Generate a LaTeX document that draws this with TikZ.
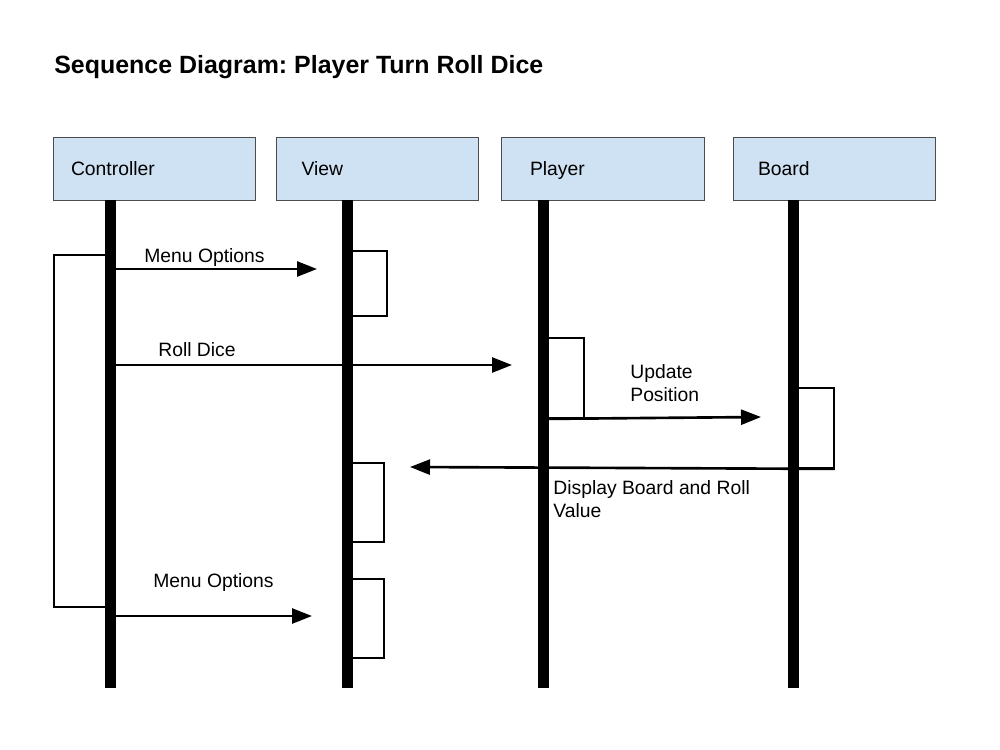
\documentclass[tikz,border=0pt]{standalone}
\usepackage{fontspec}
\setmainfont{Liberation Sans}
\usepackage{xcolor}
\usetikzlibrary{arrows.meta, positioning}

\definecolor{headblue}{HTML}{CFE2F3}
\frenchspacing

\begin{document}
\begin{tikzpicture}[
    x=0.02cm, y=-0.02cm,
    head/.style={draw=gray!60!black, fill=headblue, minimum height=1.26cm,
                 text width=3.04cm, inner xsep=0.5cm, align=left,
                 text depth=0pt, font=\fontsize{11}{13}\selectfont},
    life/.style={line width=0.22cm},
    act/.style={draw, line width=1.1pt, inner sep=0pt, anchor=north west},
    msg/.style={-{Triangle[length=0.4cm, width=0.3cm]}, line width=1.5pt},
    lbl/.style={anchor=base west, inner sep=0pt, align=left,
                font=\fontsize{11}{12.8}\selectfont}
]
\useasboundingbox (0,0) rectangle (1000,750);

% Title
\node[anchor=base west, inner sep=0pt, font=\bfseries\fontsize{14.2}{17}\selectfont]
    (title) at (54,73) {Sequence Diagram: Player Turn Roll Dice};

% Objects
\node[head, inner xsep=0.36cm, text width=3.32cm] (ctrl) at (154,168.5) {Controller};
\node[head]                                      (view) at (377.5,168.5) {View};
\node[head, inner xsep=0.58cm, text width=2.9cm] (player) at (602.5,168.5) {Player};
\node[head]                                      (board) at (834,168.5) {Board};

% Lifeline ends
\coordinate (ctrl-end)   at (110,688);
\coordinate (view-end)   at (347.5,688);
\coordinate (player-end) at (543.5,688);
\coordinate (board-end)  at (793.5,688);

% Activation boxes
\node[act, minimum width=1.14cm, minimum height=7.04cm] (ctrl-act)   at (53,254) {};
\node[act, minimum width=0.78cm, minimum height=1.3cm]  (view-act1)  at (347,250) {};
\node[act, minimum width=0.8cm,  minimum height=1.6cm]  (player-act) at (543,337) {};
\node[act, minimum width=0.8cm,  minimum height=1.6cm]  (board-act)  at (793,387) {};
\node[act, minimum width=0.72cm, minimum height=1.58cm] (view-act2)  at (347,462) {};
\node[act, minimum width=0.72cm, minimum height=1.58cm] (view-act3)  at (347,578) {};

% Messages
\coordinate (menu1-end)   at (317,269);
\coordinate (roll-end)    at (512,365);
\coordinate (update-end)  at (761,417);
\coordinate (display-end) at (410,467);
\coordinate (menu2-end)   at (312,616);

\draw[msg] (ctrl-end |- menu1-end) -- (menu1-end);
\draw[msg] (ctrl-end |- roll-end) -- (roll-end);
\draw[msg] (player-act.south west) -- (update-end);
\draw[msg] (board-act.south east) -- (display-end);
\draw[msg] (ctrl-end |- menu2-end) -- (menu2-end);

\node[lbl] (menu1-lbl)   at (144,262) {Menu Options};
\node[lbl] (roll-lbl)    at (158,356) {Roll Dice};
\node[lbl] (update-lbl)  at (630,401) {Update\\Position};
\node[lbl] (display-lbl) at (553,517) {Display Board and Roll\\Value};
\node[lbl] (menu2-lbl)   at (153,587) {Menu Options};

% Lifelines
\draw[life] (ctrl-end |- ctrl.south)     -- (ctrl-end);
\draw[life] (view-end |- view.south)     -- (view-end);
\draw[life] (player-end |- player.south) -- (player-end);
\draw[life] (board-end |- board.south)   -- (board-end);
\end{tikzpicture}
\end{document}
